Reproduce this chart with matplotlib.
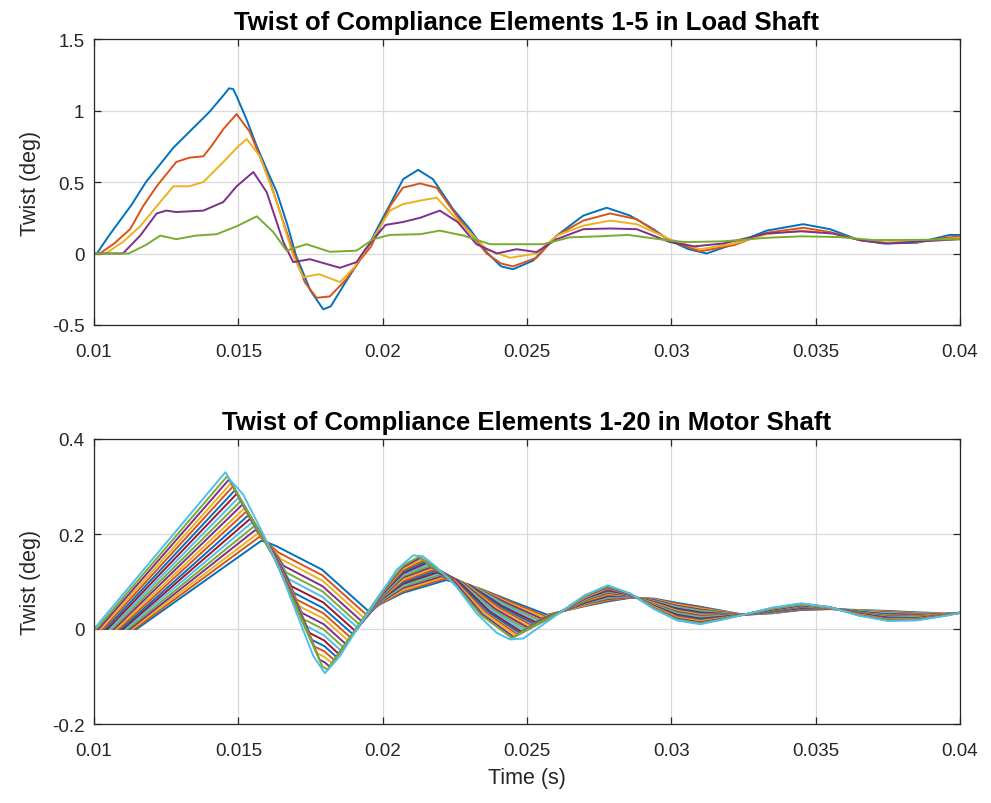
import matplotlib
matplotlib.use("Agg")
import matplotlib.pyplot as plt

# ---------------- Load shaft (top) ----------------
load_t1 = [0.0100, 0.0101, 0.0105, 0.0109, 0.0113, 0.0118, 0.01275, 0.0133, 0.0140, 0.0145, 0.01468, 0.01482, 0.01494, 0.0153, 0.01564, 0.0160, 0.01633, 0.0167, 0.0170, 0.0175, 0.01794, 0.0182, 0.01864, 0.0190, 0.01945, 0.01985, 0.02025, 0.02071, 0.02123, 0.02174, 0.02244, 0.02302, 0.0236, 0.0241, 0.02452, 0.02521, 0.02603, 0.02695, 0.02776, 0.02857, 0.02938, 0.02995, 0.0306, 0.03122, 0.03215, 0.0333, 0.03457, 0.0355, 0.03642, 0.03734, 0.0385, 0.03965, 0.0400]
load_v1 = [0, 0, 0.12, 0.23, 0.34, 0.50, 0.74, 0.85, 0.99, 1.11, 1.155, 1.15, 1.10, 0.93, 0.75, 0.58, 0.43, 0.20, -0.015, -0.26, -0.39, -0.37, -0.225, -0.11, 0.03, 0.19, 0.34, 0.52, 0.585, 0.52, 0.31, 0.17, 0.01, -0.09, -0.11, -0.05, 0.125, 0.265, 0.32, 0.265, 0.17, 0.09, 0.03, 0.0, 0.065, 0.16, 0.205, 0.17, 0.10, 0.07, 0.075, 0.13, 0.13]

load_t2 = [0.0100, 0.0102, 0.0107, 0.01125, 0.0117, 0.01217, 0.01285, 0.0133, 0.01379, 0.0141, 0.01448, 0.01494, 0.0154, 0.0161, 0.01679, 0.0173, 0.01771, 0.01817, 0.01874, 0.0192, 0.0196, 0.02025, 0.0207, 0.0213, 0.02187, 0.02256, 0.0236, 0.0241, 0.02452, 0.02533, 0.02603, 0.02695, 0.02788, 0.0288, 0.02995, 0.031, 0.0322, 0.0333, 0.03457, 0.0355, 0.0365, 0.03734, 0.0385, 0.0395, 0.0400]
load_v2 = [0, 0, 0.07, 0.17, 0.33, 0.47, 0.64, 0.67, 0.68, 0.76, 0.87, 0.975, 0.85, 0.50, 0.08, -0.20, -0.31, -0.30, -0.18, -0.05, 0.05, 0.33, 0.46, 0.49, 0.46, 0.265, 0.0, -0.07, -0.09, -0.03, 0.125, 0.23, 0.28, 0.24, 0.09, 0.015, 0.06, 0.145, 0.18, 0.15, 0.095, 0.075, 0.08, 0.11, 0.12]

load_t3 = [0.0100, 0.0104, 0.0110, 0.0116, 0.01217, 0.01275, 0.0133, 0.01379, 0.01448, 0.0150, 0.01529, 0.01575, 0.01633, 0.0169, 0.01725, 0.0178, 0.01852, 0.0190, 0.0195, 0.02025, 0.0207, 0.0213, 0.02187, 0.02256, 0.0236, 0.02441, 0.02533, 0.02603, 0.02695, 0.02788, 0.0288, 0.02995, 0.031, 0.0322, 0.0333, 0.0345, 0.0356, 0.0366, 0.0375, 0.0387, 0.0400]
load_v3 = [0, 0, 0.08, 0.19, 0.33, 0.47, 0.47, 0.50, 0.64, 0.75, 0.80, 0.68, 0.36, -0.015, -0.165, -0.145, -0.20, -0.10, 0.05, 0.30, 0.345, 0.37, 0.39, 0.24, 0.03, -0.03, 0.0, 0.125, 0.195, 0.23, 0.205, 0.10, 0.03, 0.07, 0.135, 0.16, 0.14, 0.09, 0.075, 0.085, 0.11]

load_t4 = [0.0100, 0.0110, 0.0116, 0.01217, 0.0125, 0.01285, 0.01379, 0.01448, 0.01494, 0.01552, 0.01598, 0.01656, 0.0169, 0.01748, 0.0180, 0.01852, 0.0191, 0.0194, 0.01979, 0.0201, 0.0207, 0.0213, 0.02198, 0.0226, 0.02325, 0.02395, 0.02464, 0.02533, 0.02603, 0.02695, 0.0279, 0.0288, 0.02995, 0.0308, 0.0318, 0.0333, 0.0345, 0.0356, 0.0366, 0.0375, 0.0387, 0.0400]
load_v4 = [0, 0, 0.125, 0.28, 0.30, 0.29, 0.30, 0.36, 0.47, 0.57, 0.43, 0.08, -0.06, -0.04, -0.07, -0.10, -0.06, 0.03, 0.125, 0.20, 0.22, 0.25, 0.30, 0.22, 0.065, 0.0, 0.03, 0.01, 0.10, 0.17, 0.175, 0.17, 0.08, 0.05, 0.07, 0.14, 0.155, 0.14, 0.09, 0.07, 0.085, 0.10]

load_t5 = [0.0100, 0.0112, 0.0118, 0.01229, 0.01285, 0.01352, 0.01425, 0.01494, 0.01564, 0.01621, 0.01667, 0.01736, 0.01817, 0.0191, 0.01967, 0.02025, 0.0213, 0.02198, 0.0228, 0.02372, 0.02464, 0.02556, 0.02648, 0.0275, 0.0285, 0.02995, 0.0305, 0.0318, 0.0333, 0.0345, 0.0358, 0.0370, 0.0385, 0.0400]
load_v5 = [0, 0, 0.06, 0.125, 0.10, 0.125, 0.135, 0.19, 0.26, 0.15, 0.02, 0.065, 0.012, 0.02, 0.10, 0.13, 0.135, 0.16, 0.125, 0.065, 0.065, 0.065, 0.113, 0.12, 0.13, 0.09, 0.08, 0.085, 0.11, 0.12, 0.115, 0.094, 0.095, 0.10]

# ---------------- Motor shaft (bottom) ----------------
motor_tail_t = [0.0262, 0.0270, 0.0278, 0.0286, 0.0294, 0.0302, 0.0310, 0.0318, 0.0325, 0.0335, 0.0345, 0.0355, 0.0365, 0.0375, 0.0385, 0.0395, 0.0400]

m01_t = [0.0100, 0.01148, 0.01580, 0.01605, 0.01630, 0.01790, 0.01950, 0.0200, 0.0207, 0.02220, 0.02337, 0.02453, 0.02570]
m01_v = [0, 0, 0.186, 0.181, 0.175, 0.125, 0.038, 0.055, 0.076, 0.103, 0.085, 0.057, 0.030,
         0.037, 0.048, 0.058, 0.066, 0.064, 0.055, 0.047, 0.038, 0.030, 0.033, 0.040, 0.042, 0.040, 0.038, 0.035, 0.033, 0.034]
m02_t = [0.0100, 0.01140, 0.01573, 0.01606, 0.01639, 0.01791, 0.01942, 0.0200, 0.0207, 0.02215, 0.02331, 0.02447, 0.02563]
m02_v = [0, 0, 0.194, 0.179, 0.161, 0.113, 0.031, 0.056, 0.079, 0.106, 0.086, 0.056, 0.027,
         0.037, 0.049, 0.060, 0.066, 0.063, 0.053, 0.045, 0.037, 0.030, 0.034, 0.041, 0.042, 0.039, 0.037, 0.034, 0.033, 0.034]
m03_t = [0.0100, 0.01132, 0.01567, 0.01608, 0.01648, 0.01791, 0.01934, 0.0200, 0.0207, 0.02210, 0.02325, 0.02440, 0.02556]
m03_v = [0, 0, 0.201, 0.177, 0.147, 0.102, 0.024, 0.058, 0.082, 0.109, 0.087, 0.054, 0.025,
         0.037, 0.050, 0.062, 0.067, 0.062, 0.051, 0.043, 0.036, 0.030, 0.034, 0.042, 0.042, 0.039, 0.036, 0.033, 0.033, 0.034]
m04_t = [0.0100, 0.01125, 0.01560, 0.01609, 0.01657, 0.01792, 0.01926, 0.0200, 0.0207, 0.02204, 0.02319, 0.02435, 0.02550]
m04_v = [0, 0, 0.209, 0.175, 0.133, 0.090, 0.017, 0.059, 0.086, 0.111, 0.088, 0.053, 0.022,
         0.037, 0.052, 0.063, 0.067, 0.061, 0.049, 0.041, 0.035, 0.030, 0.035, 0.042, 0.043, 0.038, 0.035, 0.032, 0.032, 0.034]
m05_t = [0.0100, 0.01117, 0.01554, 0.01610, 0.01666, 0.01792, 0.01918, 0.0200, 0.0207, 0.02199, 0.02314, 0.02428, 0.02543]
m05_v = [0, 0, 0.216, 0.173, 0.119, 0.079, 0.010, 0.061, 0.089, 0.114, 0.090, 0.051, 0.019,
         0.037, 0.053, 0.065, 0.068, 0.059, 0.047, 0.039, 0.034, 0.030, 0.036, 0.043, 0.043, 0.038, 0.034, 0.031, 0.032, 0.034]
m06_t = [0.0100, 0.01109, 0.01547, 0.01611, 0.01675, 0.01793, 0.01911, 0.0200, 0.0207, 0.02194, 0.02308, 0.02422, 0.02536]
m06_v = [0, 0, 0.224, 0.171, 0.105, 0.067, 0.004, 0.062, 0.092, 0.117, 0.091, 0.050, 0.016,
         0.037, 0.054, 0.067, 0.068, 0.058, 0.045, 0.037, 0.033, 0.030, 0.036, 0.044, 0.043, 0.037, 0.033, 0.031, 0.032, 0.034]
m07_t = [0.0100, 0.01101, 0.01541, 0.01613, 0.01684, 0.01794, 0.01903, 0.0200, 0.0207, 0.02188, 0.02302, 0.02415, 0.02529]
m07_v = [0, 0, 0.232, 0.170, 0.090, 0.056, -0.003, 0.064, 0.095, 0.119, 0.092, 0.048, 0.014,
         0.037, 0.055, 0.069, 0.069, 0.057, 0.043, 0.035, 0.032, 0.030, 0.037, 0.044, 0.043, 0.036, 0.031, 0.030, 0.031, 0.034]
m08_t = [0.0100, 0.01094, 0.01534, 0.01614, 0.01693, 0.01794, 0.01895, 0.0200, 0.0207, 0.02183, 0.02296, 0.02409, 0.02522]
m08_v = [0, 0, 0.239, 0.167, 0.076, 0.044, -0.010, 0.065, 0.098, 0.122, 0.093, 0.047, 0.011,
         0.037, 0.057, 0.071, 0.069, 0.056, 0.041, 0.033, 0.031, 0.030, 0.037, 0.045, 0.044, 0.036, 0.030, 0.029, 0.031, 0.034]
m09_t = [0.0100, 0.01086, 0.01527, 0.01615, 0.01702, 0.01795, 0.01887, 0.0200, 0.0207, 0.02178, 0.02290, 0.02403, 0.02515]
m09_v = [0, 0, 0.247, 0.166, 0.062, 0.033, -0.017, 0.066, 0.101, 0.125, 0.095, 0.045, 0.008,
         0.037, 0.058, 0.072, 0.069, 0.055, 0.039, 0.031, 0.030, 0.030, 0.038, 0.046, 0.044, 0.035, 0.029, 0.028, 0.031, 0.034]
m10_t = [0.0100, 0.01078, 0.01521, 0.01616, 0.01711, 0.01795, 0.01879, 0.0200, 0.0207, 0.02173, 0.02285, 0.02396, 0.02508]
m10_v = [0, 0, 0.254, 0.164, 0.048, 0.022, -0.024, 0.068, 0.104, 0.128, 0.096, 0.043, 0.005,
         0.037, 0.059, 0.074, 0.070, 0.054, 0.038, 0.030, 0.030, 0.030, 0.039, 0.047, 0.044, 0.034, 0.028, 0.027, 0.031, 0.034]
m11_t = [0.0100, 0.01070, 0.01514, 0.01617, 0.01720, 0.01796, 0.01871, 0.0200, 0.0207, 0.02167, 0.02279, 0.02390, 0.02502]
m11_v = [0, 0, 0.262, 0.162, 0.034, 0.010, -0.031, 0.069, 0.108, 0.130, 0.097, 0.042, 0.003,
         0.037, 0.060, 0.076, 0.070, 0.052, 0.036, 0.028, 0.029, 0.030, 0.039, 0.047, 0.044, 0.034, 0.027, 0.026, 0.030, 0.034]
m12_t = [0.0100, 0.01062, 0.01508, 0.01618, 0.01728, 0.01796, 0.01863, 0.0200, 0.0207, 0.02162, 0.02273, 0.02384, 0.02495]
m12_v = [0, 0, 0.269, 0.160, 0.020, -0.001, -0.038, 0.071, 0.111, 0.133, 0.098, 0.040, 0.000,
         0.037, 0.061, 0.078, 0.071, 0.051, 0.034, 0.026, 0.028, 0.030, 0.040, 0.048, 0.044, 0.033, 0.026, 0.025, 0.030, 0.034]
m13_t = [0.0100, 0.01055, 0.01501, 0.01619, 0.01737, 0.01796, 0.01855, 0.0200, 0.0207, 0.02157, 0.02267, 0.02378, 0.02488]
m13_v = [0, 0, 0.277, 0.159, 0.006, -0.013, -0.045, 0.072, 0.114, 0.136, 0.100, 0.039, -0.003,
         0.037, 0.063, 0.080, 0.071, 0.050, 0.032, 0.024, 0.027, 0.030, 0.041, 0.049, 0.045, 0.032, 0.025, 0.024, 0.030, 0.034]
m14_t = [0.0100, 0.01047, 0.01495, 0.01621, 0.01746, 0.01797, 0.01847, 0.0200, 0.0207, 0.02152, 0.02262, 0.02371, 0.02481]
m14_v = [0, 0, 0.285, 0.157, -0.008, -0.024, -0.052, 0.074, 0.117, 0.139, 0.101, 0.037, -0.006,
         0.037, 0.064, 0.081, 0.072, 0.049, 0.030, 0.022, 0.026, 0.030, 0.041, 0.050, 0.045, 0.032, 0.024, 0.023, 0.030, 0.034]
m15_t = [0.0100, 0.01039, 0.01488, 0.01622, 0.01755, 0.01798, 0.01840, 0.0200, 0.0207, 0.02146, 0.02255, 0.02365, 0.02474]
m15_v = [0, 0, 0.292, 0.154, -0.023, -0.036, -0.059, 0.075, 0.120, 0.141, 0.102, 0.036, -0.008,
         0.037, 0.065, 0.083, 0.072, 0.048, 0.028, 0.020, 0.025, 0.030, 0.042, 0.050, 0.045, 0.031, 0.023, 0.022, 0.029, 0.034]
m16_t = [0.0100, 0.01031, 0.01481, 0.01623, 0.01764, 0.01798, 0.01832, 0.0200, 0.0207, 0.02141, 0.02250, 0.02358, 0.02467]
m16_v = [0, 0, 0.300, 0.153, -0.037, -0.047, -0.065, 0.076, 0.123, 0.144, 0.103, 0.034, -0.011,
         0.037, 0.066, 0.085, 0.072, 0.047, 0.026, 0.018, 0.024, 0.030, 0.043, 0.051, 0.045, 0.031, 0.021, 0.022, 0.029, 0.034]
m17_t = [0.0100, 0.01023, 0.01475, 0.01624, 0.01773, 0.01799, 0.01824, 0.0200, 0.0207, 0.02136, 0.02244, 0.02353, 0.02461]
m17_v = [0, 0, 0.307, 0.151, -0.051, -0.059, -0.072, 0.078, 0.127, 0.147, 0.104, 0.033, -0.014,
         0.037, 0.067, 0.087, 0.073, 0.046, 0.024, 0.016, 0.023, 0.030, 0.043, 0.052, 0.045, 0.030, 0.020, 0.021, 0.029, 0.034]
m18_t = [0.0100, 0.01016, 0.01468, 0.01625, 0.01782, 0.01799, 0.01816, 0.0200, 0.0207, 0.02131, 0.02239, 0.02346, 0.02454]
m18_v = [0, 0, 0.315, 0.149, -0.065, -0.070, -0.079, 0.079, 0.130, 0.150, 0.106, 0.031, -0.017,
         0.037, 0.069, 0.088, 0.073, 0.044, 0.022, 0.014, 0.022, 0.030, 0.044, 0.053, 0.046, 0.029, 0.019, 0.020, 0.029, 0.034]
m19_t = [0.0100, 0.01008, 0.01462, 0.01627, 0.01791, 0.01800, 0.01808, 0.0200, 0.0207, 0.02125, 0.02232, 0.02340, 0.02447]
m19_v = [0, 0, 0.322, 0.147, -0.079, -0.082, -0.086, 0.081, 0.133, 0.152, 0.107, 0.030, -0.019,
         0.037, 0.070, 0.090, 0.074, 0.043, 0.020, 0.012, 0.021, 0.030, 0.044, 0.053, 0.046, 0.029, 0.018, 0.019, 0.028, 0.034]
m20_t = [0.0100, 0.01455, 0.01471, 0.01517, 0.01586, 0.01644, 0.01702, 0.0176, 0.0180, 0.01852, 0.0191, 0.01956, 0.02002, 0.02049, 0.02106, 0.0214, 0.02187, 0.02256, 0.02325, 0.02395, 0.02441, 0.02487, 0.02545]
m20_v = [0, 0.330, 0.314, 0.283, 0.200, 0.124, 0.033, -0.057, -0.093, -0.057, -0.001, 0.040, 0.082, 0.125, 0.155, 0.153, 0.130, 0.089, 0.033, -0.008, -0.022, -0.020, 0.005,
         0.037, 0.071, 0.092, 0.074, 0.042, 0.018, 0.010, 0.020, 0.030, 0.045, 0.054, 0.046, 0.028, 0.017, 0.018, 0.028, 0.034]

x_ticks = [0.01, 0.015, 0.02, 0.025, 0.03, 0.035, 0.04]
x_ticklabels = ["0.01", "0.015", "0.02", "0.025", "0.03", "0.035", "0.04"]
top_yticks = [-0.5, 0, 0.5, 1, 1.5]
top_yticklabels = ["-0.5", "0", "0.5", "1", "1.5"]
bot_yticks = [-0.2, 0, 0.2, 0.4]
bot_yticklabels = ["-0.2", "0", "0.2", "0.4"]

top_title = "Twist of Compliance Elements 1-5 in Load Shaft"
bot_title = "Twist of Compliance Elements 1-20 in Motor Shaft"

colors = ['#0072BD', '#D95319', '#EDB120', '#7E2F8E', '#77AC30', '#4DBEEE', '#A2142F']

plt.rcParams['font.family'] = ['Liberation Sans', 'DejaVu Sans']
TXT = '#262626'

fig = plt.figure(figsize=(9.91, 8.04), dpi=100)
fig.patch.set_facecolor('white')
ax1 = fig.add_axes([94/991, 1 - 326/804, (960-94)/991, (326-40)/804])
ax2 = fig.add_axes([94/991, 1 - 725/804, (960-94)/991, (725-440)/804])


def style(ax, yticks, ylabels, ylim):
    ax.set_xlim(0.01, 0.04)
    ax.set_ylim(*ylim)
    ax.set_xticks(x_ticks)
    ax.set_xticklabels(x_ticklabels)
    ax.set_yticks(yticks)
    ax.set_yticklabels(ylabels)
    ax.grid(True, color='#d9d9d9', linewidth=0.9)
    ax.set_axisbelow(True)
    ax.tick_params(direction='in', top=True, right=True, length=5, width=0.9,
                   colors=TXT, labelsize=13.5)
    ax.tick_params(axis='x', pad=13)
    ax.tick_params(axis='y', pad=7)
    for s in ax.spines.values():
        s.set_color(TXT)
        s.set_linewidth(0.9)
    ax.set_ylabel("Twist (deg)", fontsize=15.5, color=TXT, labelpad=8)


load_series = [(load_t1, load_v1), (load_t2, load_v2), (load_t3, load_v3),
               (load_t4, load_v4), (load_t5, load_v5)]
for i, (t, v) in enumerate(load_series):
    ax1.plot(t, v, color=colors[i % 7], linewidth=1.4)
style(ax1, top_yticks, top_yticklabels, (-0.5, 1.5))
ax1.set_title(top_title, fontsize=18.5, fontweight='bold', color='black', pad=7)

motor_heads = [m01_t, m02_t, m03_t, m04_t, m05_t, m06_t, m07_t, m08_t, m09_t, m10_t,
               m11_t, m12_t, m13_t, m14_t, m15_t, m16_t, m17_t, m18_t, m19_t, m20_t]
motor_vals = [m01_v, m02_v, m03_v, m04_v, m05_v, m06_v, m07_v, m08_v, m09_v, m10_v,
              m11_v, m12_v, m13_v, m14_v, m15_v, m16_v, m17_v, m18_v, m19_v, m20_v]
for i, (th, v) in enumerate(zip(motor_heads, motor_vals)):
    t = th + motor_tail_t
    ax2.plot(t, v, color=colors[i % 7], linewidth=1.4)
style(ax2, bot_yticks, bot_yticklabels, (-0.2, 0.4))
ax2.set_title(bot_title, fontsize=18.5, fontweight='bold', color='black', pad=7)
ax2.set_xlabel("Time (s)", fontsize=15.5, color=TXT, labelpad=6)

fig.savefig("out.png", dpi=100, facecolor='white')
